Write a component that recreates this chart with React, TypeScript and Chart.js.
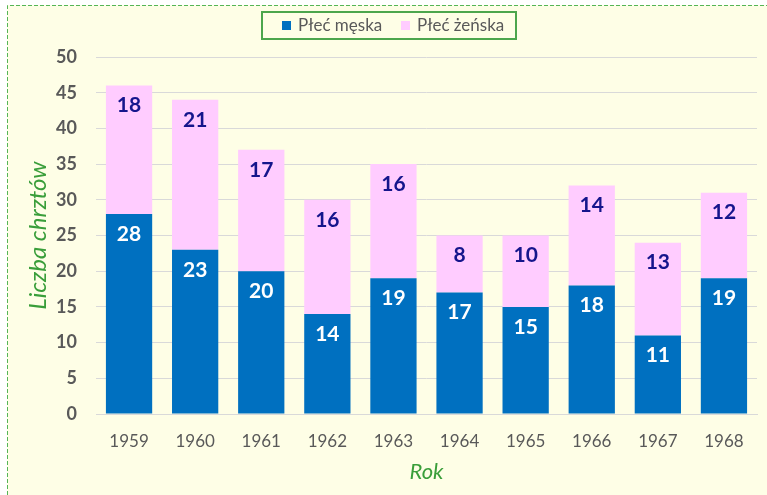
import React, { useEffect, useRef } from "react";
import { Chart, registerables } from "chart.js";

Chart.register(...registerables);

const years = ["1959", "1960", "1961", "1962", "1963", "1964", "1965", "1966", "1967", "1968"];
const maleCounts = [28, 23, 20, 14, 19, 17, 15, 18, 11, 19];
const femaleCounts = [18, 21, 17, 16, 16, 8, 10, 14, 13, 12];
const seriesNames = ["Płeć męska", "Płeć żeńska"];
const yAxisTitle = "Liczba chrztów";
const xAxisTitle = "Rok";

const BLUE = "#0070C0";
const PINK = "#FFCCFF";
const NAVY = "#15158C";
const GREEN = "#3A9E3A";
const GRAY = "#595959";
const BG = "#FEFEE6";
const FONT = "Lato, 'Open Sans', sans-serif";

const backgroundPlugin = {
  id: "bgPlugin",
  beforeDraw(chart: any) {
    const { ctx, width, height } = chart;
    ctx.save();
    ctx.fillStyle = "#FFFFFF";
    ctx.fillRect(0, 0, width, height);
    ctx.fillStyle = BG;
    ctx.fillRect(7, 5, width - 7, height - 5);
    ctx.strokeStyle = "#55B555";
    ctx.lineWidth = 1;
    ctx.setLineDash([4, 2]);
    ctx.beginPath();
    ctx.moveTo(7.5, height);
    ctx.lineTo(7.5, 5.5);
    ctx.lineTo(width, 5.5);
    ctx.stroke();
    ctx.restore();
  },
};

const legendPlugin = {
  id: "boxLegend",
  afterDraw(chart: any) {
    const { ctx } = chart;
    ctx.save();
    ctx.strokeStyle = "#4CA64C";
    ctx.lineWidth = 2;
    ctx.strokeRect(262, 12, 254, 27);
    ctx.font = `17px ${FONT}`;
    ctx.textBaseline = "middle";
    ctx.fillStyle = BLUE;
    ctx.fillRect(282, 21, 9, 9);
    ctx.fillStyle = GRAY;
    ctx.fillText(seriesNames[0], 298, 26);
    ctx.fillStyle = PINK;
    ctx.fillRect(401, 21, 9, 9);
    ctx.fillStyle = GRAY;
    ctx.fillText(seriesNames[1], 417, 26);
    ctx.restore();
  },
};

const labelPlugin = {
  id: "barLabels",
  afterDatasetsDraw(chart: any) {
    const { ctx } = chart;
    ctx.save();
    ctx.font = `bold 21px ${FONT}`;
    ctx.textAlign = "center";
    ctx.textBaseline = "middle";
    chart.data.datasets.forEach((ds: any, di: number) => {
      const meta = chart.getDatasetMeta(di);
      ctx.fillStyle = di === 0 ? "#FFFFFF" : NAVY;
      meta.data.forEach((bar: any, i: number) => {
        ctx.fillText(String(ds.data[i]), bar.x, bar.y + 20);
      });
    });
    ctx.restore();
  },
};

export default function App() {
  const canvasRef = useRef<HTMLCanvasElement | null>(null);

  useEffect(() => {
    if (!canvasRef.current) return;
    const chart = new Chart(canvasRef.current, {
      type: "bar",
      data: {
        labels: years,
        datasets: [
          { label: seriesNames[0], data: maleCounts, backgroundColor: BLUE },
          { label: seriesNames[1], data: femaleCounts, backgroundColor: PINK },
        ],
      },
      options: {
        animation: false,
        responsive: false,
        devicePixelRatio: 1,
        layout: { padding: { top: 57, right: 10, left: 0, bottom: 0 } },
        datasets: { bar: { categoryPercentage: 1, barPercentage: 0.7 } },
        plugins: {
          legend: { display: false },
          tooltip: { enabled: false },
          title: { display: false },
        },
        scales: {
          x: {
            stacked: true,
            grid: { display: false, drawTicks: false },
            border: { display: true, color: "#D9D9D9", width: 1 },
            ticks: { color: GRAY, font: { family: FONT, size: 17 }, padding: 17 },
            title: {
              display: true,
              text: xAxisTitle,
              color: GREEN,
              font: { family: FONT, size: 22, style: "italic" },
              padding: { top: 0, bottom: 10 },
            },
            afterFit(scale: any) {
              scale.height = 81;
            },
          },
          y: {
            stacked: true,
            min: 0,
            max: 50,
            ticks: {
              stepSize: 5,
              color: GRAY,
              font: { family: FONT, size: 18, weight: "bold" },
              padding: 19,
            },
            grid: { color: "#D9D9D9", drawTicks: false },
            border: { display: false },
            title: {
              display: true,
              text: yAxisTitle,
              color: GREEN,
              font: { family: FONT, size: 24, style: "italic" },
              padding: { top: 24, bottom: 0 },
            },
            afterFit(scale: any) {
              scale.width = 96;
            },
          },
        },
      },
      plugins: [backgroundPlugin, legendPlugin, labelPlugin],
    });
    return () => chart.destroy();
  }, []);

  return (
    <div style={{ position: "absolute", left: 0, top: 0, width: 767, height: 495 }}>
      <canvas ref={canvasRef} width={767} height={495} />
    </div>
  );
}
